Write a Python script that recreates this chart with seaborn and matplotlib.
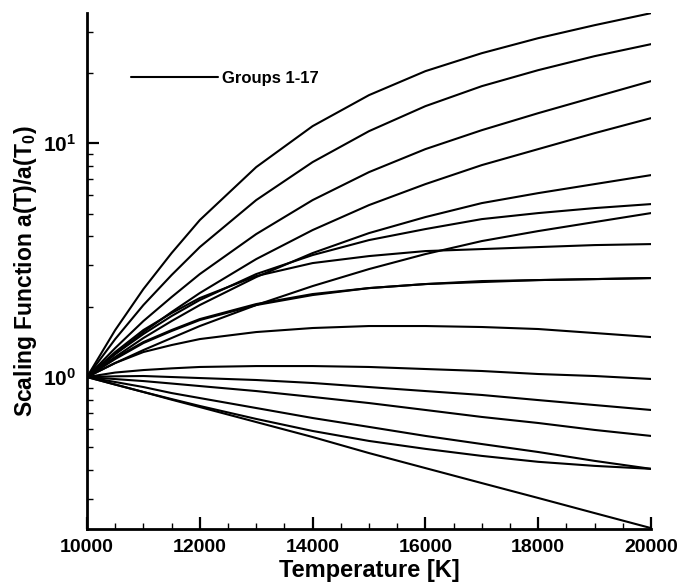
import numpy as np
import pandas as pd
import matplotlib
matplotlib.use("Agg")
import matplotlib.pyplot as plt
from matplotlib.lines import Line2D
from matplotlib.ticker import MultipleLocator, LogLocator, FixedLocator, FixedFormatter, NullFormatter
import seaborn as sns

temperature = [10000, 10500, 11000, 11500, 12000, 13000, 14000, 15000, 16000, 17000, 18000, 19000, 20000]

g01 = [1.0, 1.588, 2.377, 3.388, 4.688, 7.897, 11.82, 16.04, 20.31, 24.24, 28.10, 31.93, 35.94]
g02 = [1.0, 1.453, 2.031, 2.729, 3.594, 5.707, 8.295, 11.25, 14.39, 17.52, 20.51, 23.54, 26.49]
g03 = [1.0, 1.330, 1.735, 2.197, 2.755, 4.084, 5.707, 7.517, 9.427, 11.36, 13.43, 15.73, 18.41]
g04 = [1.0, 1.254, 1.557, 1.896, 2.286, 3.193, 4.249, 5.433, 6.680, 8.054, 9.427, 11.03, 12.79]
g05 = [1.0, 1.218, 1.468, 1.735, 2.031, 2.675, 3.388, 4.124, 4.829, 5.541, 6.113, 6.680, 7.298]
g06 = [1.0, 1.254, 1.527, 1.823, 2.134, 2.755, 3.322, 3.850, 4.291, 4.733, 5.022, 5.275, 5.487]
g07 = [1.0, 1.148, 1.304, 1.468, 1.652, 2.031, 2.448, 2.894, 3.355, 3.813, 4.207, 4.597, 5.022]
g08 = [1.0, 1.279, 1.588, 1.877, 2.176, 2.702, 3.070, 3.289, 3.455, 3.524, 3.594, 3.665, 3.701]
g09 = [1.0, 1.194, 1.397, 1.573, 1.752, 2.031, 2.241, 2.400, 2.497, 2.547, 2.597, 2.622, 2.649]
g10 = [1.0, 1.148, 1.279, 1.370, 1.453, 1.557, 1.620, 1.652, 1.652, 1.636, 1.604, 1.542, 1.482]
g11 = [1.0, 1.045, 1.071, 1.089, 1.104, 1.114, 1.114, 1.104, 1.082, 1.061, 1.030, 1.010, 0.981]
g12 = [1.0, 1.007, 1.010, 1.000, 0.990, 0.971, 0.943, 0.906, 0.871, 0.838, 0.797, 0.759, 0.723]
g13 = [1.0, 0.980, 0.961, 0.938, 0.915, 0.871, 0.822, 0.774, 0.723, 0.675, 0.636, 0.594, 0.560]
g14 = [1.0, 0.952, 0.906, 0.854, 0.813, 0.737, 0.668, 0.612, 0.560, 0.517, 0.478, 0.438, 0.405]
g15 = [1.0, 0.928, 0.863, 0.805, 0.752, 0.662, 0.588, 0.533, 0.493, 0.460, 0.434, 0.417, 0.405]
g16 = [1.0, 0.929, 0.863, 0.800, 0.744, 0.642, 0.554, 0.473, 0.408, 0.352, 0.304, 0.262, 0.226]
g17 = [1.0, 1.206, 1.411, 1.588, 1.769, 2.051, 2.263, 2.400, 2.497, 2.572, 2.597, 2.622, 2.649]

groups = [g01, g02, g03, g04, g05, g06, g07, g08, g09, g10, g11, g12, g13, g14, g15, g16, g17]

rows = []
for i, vals in enumerate(groups, start=1):
    for t, v in zip(temperature, vals):
        rows.append({"T": t, "a": v, "group": i})
df = pd.DataFrame(rows)

sns.set_style("ticks")
plt.rcParams["font.family"] = ["Liberation Sans", "DejaVu Sans"]
plt.rcParams["font.weight"] = "bold"
plt.rcParams["mathtext.fontset"] = "custom"
plt.rcParams["mathtext.rm"] = "Liberation Sans:bold"
plt.rcParams["mathtext.bf"] = "Liberation Sans:bold"
plt.rcParams["mathtext.it"] = "Liberation Sans:bold"
for k in ["text.color", "axes.labelcolor", "xtick.color", "ytick.color", "axes.edgecolor"]:
    plt.rcParams[k] = "black"

fig = plt.figure(figsize=(6.83, 5.85), dpi=100)
ax = fig.add_axes([87/683, 56/585, 564/683, 516/585])

sns.lineplot(data=df, x="T", y="a", units="group", estimator=None,
             color="black", linewidth=1.5, ax=ax, legend=False)

ax.set_yscale("log")
ax.set_xlim(10000, 20000)
ax.set_ylim(0.224, 36.0)

ax.xaxis.set_major_locator(MultipleLocator(2000))
ax.xaxis.set_minor_locator(MultipleLocator(500))
ax.yaxis.set_major_locator(FixedLocator([1, 10]))
ax.yaxis.set_major_formatter(FixedFormatter([r"$\mathbf{10^{0}}$", r"$\mathbf{10^{1}}$"]))
ax.yaxis.set_minor_locator(LogLocator(base=10, subs=np.arange(2, 10)))
ax.yaxis.set_minor_formatter(NullFormatter())

for s in ["top", "right"]:
    ax.spines[s].set_visible(False)
for s in ["left", "bottom"]:
    ax.spines[s].set_linewidth(2.0)
    ax.spines[s].set_color("black")

ax.tick_params(axis="both", which="major", direction="in", length=8.5, width=1.6,
               labelsize=14, colors="black")
ax.tick_params(axis="x", which="major", pad=7)
ax.tick_params(axis="y", which="major", pad=8, labelsize=15)
ax.tick_params(axis="both", which="minor", direction="in", length=4.5, width=1.0, colors="black")
for lab in ax.get_xticklabels():
    lab.set_fontweight("bold")

ax.set_xlabel("Temperature [K]", fontsize=17, fontweight="bold", labelpad=2)
ax.set_ylabel(r"Scaling Function a(T)/a(T$_\mathbf{0}$)", fontsize=16.5, fontweight="bold", labelpad=3)

handle = Line2D([0], [0], color="black", linewidth=1.5)
ax.legend([handle], ["Groups 1-17"], loc="center left",
          bbox_to_anchor=(0.078, 0.874), frameon=False, handlelength=5.2,
          handletextpad=0.25, borderpad=0, borderaxespad=0,
          prop={"weight": "bold", "size": 12})

fig.savefig("out.png", dpi=100)
